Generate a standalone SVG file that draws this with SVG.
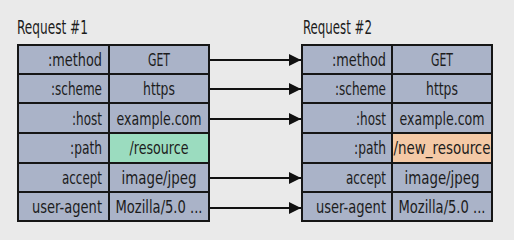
<svg xmlns="http://www.w3.org/2000/svg" width="514" height="240" viewBox="0 0 514 240">
<style>
.t{font-family:"DejaVu Sans Condensed","Liberation Sans Narrow","Liberation Sans",sans-serif;fill:#1c1c1c}
.title{font-size:19px}
.k{font-size:17.5px;text-anchor:end}
.v{font-size:17.5px;text-anchor:middle}
.c{fill:#aab3c8;stroke:#161616;stroke-width:2}
.g{fill:#9bdcbf;stroke:#161616;stroke-width:2}
.o{fill:#f4c9a6;stroke:#161616;stroke-width:2}
.ln{stroke:#111;stroke-width:2;fill:none}
</style>
<defs>
<marker id="ah" markerWidth="12" markerHeight="12" refX="12" refY="6" orient="auto" markerUnits="userSpaceOnUse">
<path d="M0,0 L12,6 L0,12 Z" fill="#111"/>
</marker>
</defs>
<rect width="514" height="240" fill="#eaeaea"/>
<g id="req1">
<text class="t title" x="17" y="34" textLength="71" lengthAdjust="spacingAndGlyphs">Request #1</text>
<rect x="17" y="44" width="193" height="178" fill="#161616"/>
<g id="r1-method"><rect class="c" x="18" y="45" width="91" height="29"/><rect class="c" x="109" y="45" width="100" height="29"/>
<text class="t k" x="102" y="65.5" textLength="54" lengthAdjust="spacingAndGlyphs">:method</text><text class="t v" x="159" y="65.5" textLength="22" lengthAdjust="spacingAndGlyphs">GET</text></g>
<g id="r1-scheme"><rect class="c" x="18" y="74" width="91" height="29"/><rect class="c" x="109" y="74" width="100" height="29"/>
<text class="t k" x="102" y="95" textLength="51" lengthAdjust="spacingAndGlyphs">:scheme</text><text class="t v" x="159" y="95" textLength="32" lengthAdjust="spacingAndGlyphs">https</text></g>
<g id="r1-host"><rect class="c" x="18" y="103" width="91" height="30"/><rect class="c" x="109" y="103" width="100" height="30"/>
<text class="t k" x="102" y="124.5" textLength="30" lengthAdjust="spacingAndGlyphs">:host</text><text class="t v" x="159" y="124.5" textLength="85" lengthAdjust="spacingAndGlyphs">example.com</text></g>
<g id="r1-path"><rect class="c" x="18" y="133" width="91" height="30"/><rect class="g" x="109" y="133" width="100" height="30"/>
<text class="t k" x="102" y="154" textLength="32" lengthAdjust="spacingAndGlyphs">:path</text><text class="t v" x="159" y="154" textLength="59" lengthAdjust="spacingAndGlyphs">/resource</text></g>
<g id="r1-accept"><rect class="c" x="18" y="163" width="91" height="29"/><rect class="c" x="109" y="163" width="100" height="29"/>
<text class="t k" x="102" y="183.5" textLength="40" lengthAdjust="spacingAndGlyphs">accept</text><text class="t v" x="159" y="183.5" textLength="75" lengthAdjust="spacingAndGlyphs">image/jpeg</text></g>
<g id="r1-ua"><rect class="c" x="18" y="192" width="91" height="29"/><rect class="c" x="109" y="192" width="100" height="29"/>
<text class="t k" x="102" y="213" textLength="70" lengthAdjust="spacingAndGlyphs">user-agent</text><text class="t v" x="159" y="213" textLength="87" lengthAdjust="spacingAndGlyphs">Mozilla/5.0 ...</text></g>
</g>
<g id="req2">
<text class="t title" x="303" y="34" textLength="69" lengthAdjust="spacingAndGlyphs">Request #2</text>
<rect x="301" y="44" width="192" height="178" fill="#161616"/>
<g id="r2-method"><rect class="c" x="302" y="45" width="90" height="29"/><rect class="c" x="392" y="45" width="100" height="29"/>
<text class="t k" x="386" y="65.5" textLength="54" lengthAdjust="spacingAndGlyphs">:method</text><text class="t v" x="442" y="65.5" textLength="22" lengthAdjust="spacingAndGlyphs">GET</text></g>
<g id="r2-scheme"><rect class="c" x="302" y="74" width="90" height="29"/><rect class="c" x="392" y="74" width="100" height="29"/>
<text class="t k" x="386" y="95" textLength="51" lengthAdjust="spacingAndGlyphs">:scheme</text><text class="t v" x="442" y="95" textLength="32" lengthAdjust="spacingAndGlyphs">https</text></g>
<g id="r2-host"><rect class="c" x="302" y="103" width="90" height="30"/><rect class="c" x="392" y="103" width="100" height="30"/>
<text class="t k" x="386" y="124.5" textLength="30" lengthAdjust="spacingAndGlyphs">:host</text><text class="t v" x="442" y="124.5" textLength="85" lengthAdjust="spacingAndGlyphs">example.com</text></g>
<g id="r2-path"><rect class="c" x="302" y="133" width="90" height="30"/><rect class="o" x="392" y="133" width="100" height="30"/>
<text class="t k" x="386" y="154" textLength="32" lengthAdjust="spacingAndGlyphs">:path</text><text class="t v" x="442" y="154" textLength="97" lengthAdjust="spacingAndGlyphs">/new_resource</text></g>
<g id="r2-accept"><rect class="c" x="302" y="163" width="90" height="29"/><rect class="c" x="392" y="163" width="100" height="29"/>
<text class="t k" x="386" y="183.5" textLength="40" lengthAdjust="spacingAndGlyphs">accept</text><text class="t v" x="442" y="183.5" textLength="75" lengthAdjust="spacingAndGlyphs">image/jpeg</text></g>
<g id="r2-ua"><rect class="c" x="302" y="192" width="90" height="29"/><rect class="c" x="392" y="192" width="100" height="29"/>
<text class="t k" x="386" y="213" textLength="70" lengthAdjust="spacingAndGlyphs">user-agent</text><text class="t v" x="442" y="213" textLength="87" lengthAdjust="spacingAndGlyphs">Mozilla/5.0 ...</text></g>
</g>
<g id="connectors">
<line class="ln" x1="210" y1="60" x2="301" y2="60" marker-end="url(#ah)"/>
<line class="ln" x1="210" y1="89" x2="301" y2="89" marker-end="url(#ah)"/>
<line class="ln" x1="210" y1="119" x2="301" y2="119" marker-end="url(#ah)"/>
<line class="ln" x1="210" y1="178" x2="301" y2="178" marker-end="url(#ah)"/>
<line class="ln" x1="210" y1="208" x2="301" y2="208" marker-end="url(#ah)"/>
</g>
</svg>
